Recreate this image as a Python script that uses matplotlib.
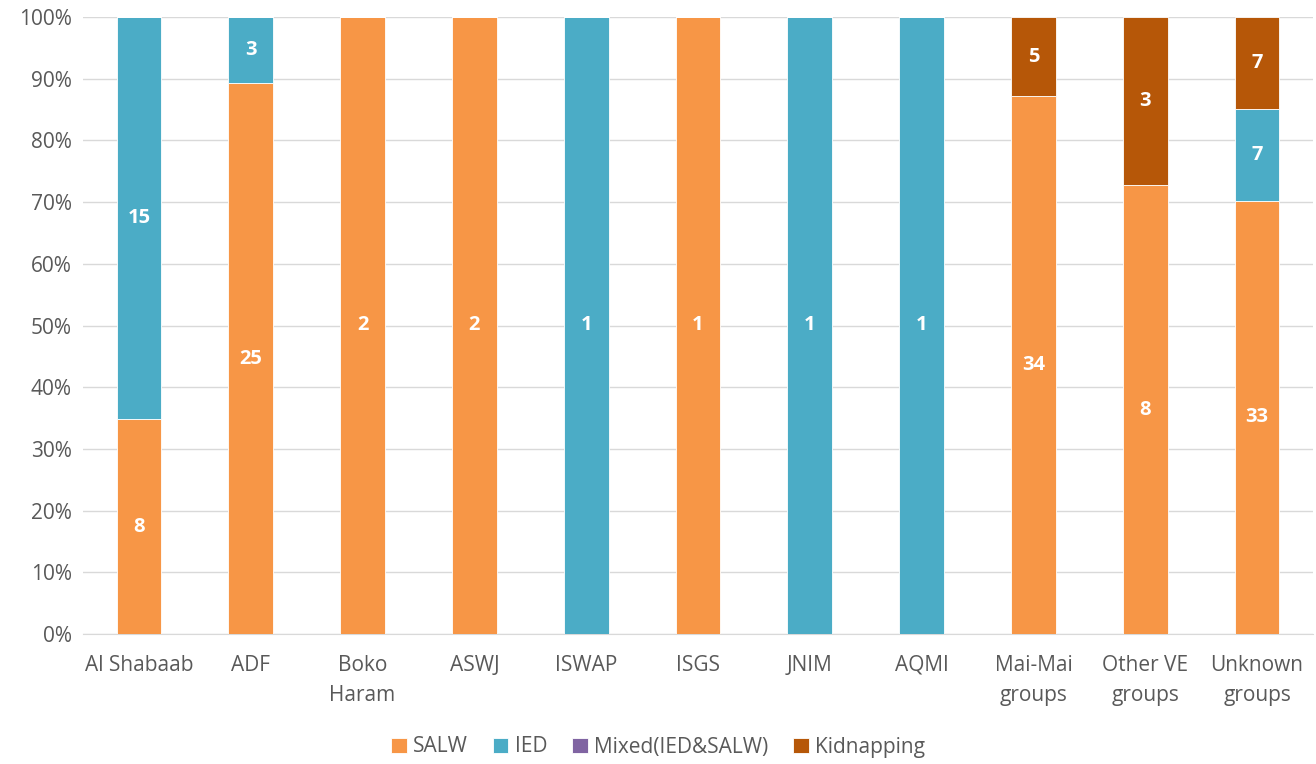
import matplotlib.pyplot as plt
import numpy as np

plt.rcParams['font.family'] = ['Open Sans', 'DejaVu Sans']

groups = ['Al Shabaab', 'ADF', 'Boko\nHaram', 'ASWJ', 'ISWAP', 'ISGS', 'JNIM', 'AQMI',
          'Mai-Mai\ngroups', 'Other VE\ngroups', 'Unknown\ngroups']
series = ['SALW', 'IED', 'Mixed(IED&SALW)', 'Kidnapping']
salw = [8, 25, 2, 2, 0, 1, 0, 0, 34, 8, 33]
ied = [15, 3, 0, 0, 1, 0, 1, 1, 0, 0, 7]
mixed = [0, 0, 0, 0, 0, 0, 0, 0, 0, 0, 0]
kidnap = [0, 0, 0, 0, 0, 0, 0, 0, 5, 3, 7]
colors = ['#F79646', '#4BACC6', '#8064A2', '#B65708']

counts = np.array([salw, ied, mixed, kidnap], dtype=float)
totals = counts.sum(axis=0)
shares = counts / totals * 100

fig = plt.figure(figsize=(13.16, 7.64), dpi=100)
ax = fig.add_axes([83 / 1316, 1 - 634 / 764, (1313 - 83) / 1316, (634 - 17) / 764])

x = np.arange(len(groups))
bottom = np.zeros(len(groups))
for i, name in enumerate(series):
    ax.bar(x, shares[i], 0.4, bottom=bottom, color=colors[i], label=name,
           edgecolor='white', linewidth=0.6, zorder=3)
    for j in range(len(groups)):
        if counts[i, j] > 0:
            ax.text(x[j], bottom[j] + shares[i, j] / 2, f'{int(counts[i, j])}',
                    ha='center', va='center', color='white', fontsize=14.5,
                    fontweight='bold', zorder=4)
    bottom += shares[i]

ax.set_xlim(-0.5, len(groups) - 0.5)
ax.set_ylim(0, 100)
ax.set_yticks(np.arange(0, 101, 10))
ax.set_yticklabels([f'{v}%' for v in range(0, 101, 10)])
ax.set_xticks(x)
ax.set_xticklabels(groups, linespacing=1.55)
ax.tick_params(axis='both', length=0, labelsize=15, colors='#595959')
ax.tick_params(axis='x', pad=15)
ax.tick_params(axis='y', pad=8)
ax.grid(axis='y', color='#D9D9D9', linewidth=1, zorder=0)
for s in ['top', 'right', 'left']:
    ax.spines[s].set_visible(False)
ax.spines['bottom'].set_color('#D9D9D9')

leg = fig.legend(loc='center', bbox_to_anchor=(0.5, 1 - 747 / 764), ncol=4, frameon=False,
                 fontsize=15, handlelength=0.75, handleheight=0.75, handletextpad=0.3,
                 columnspacing=1.2)
for t in leg.get_texts():
    t.set_color('#595959')

fig.savefig('out.png', dpi=100)
